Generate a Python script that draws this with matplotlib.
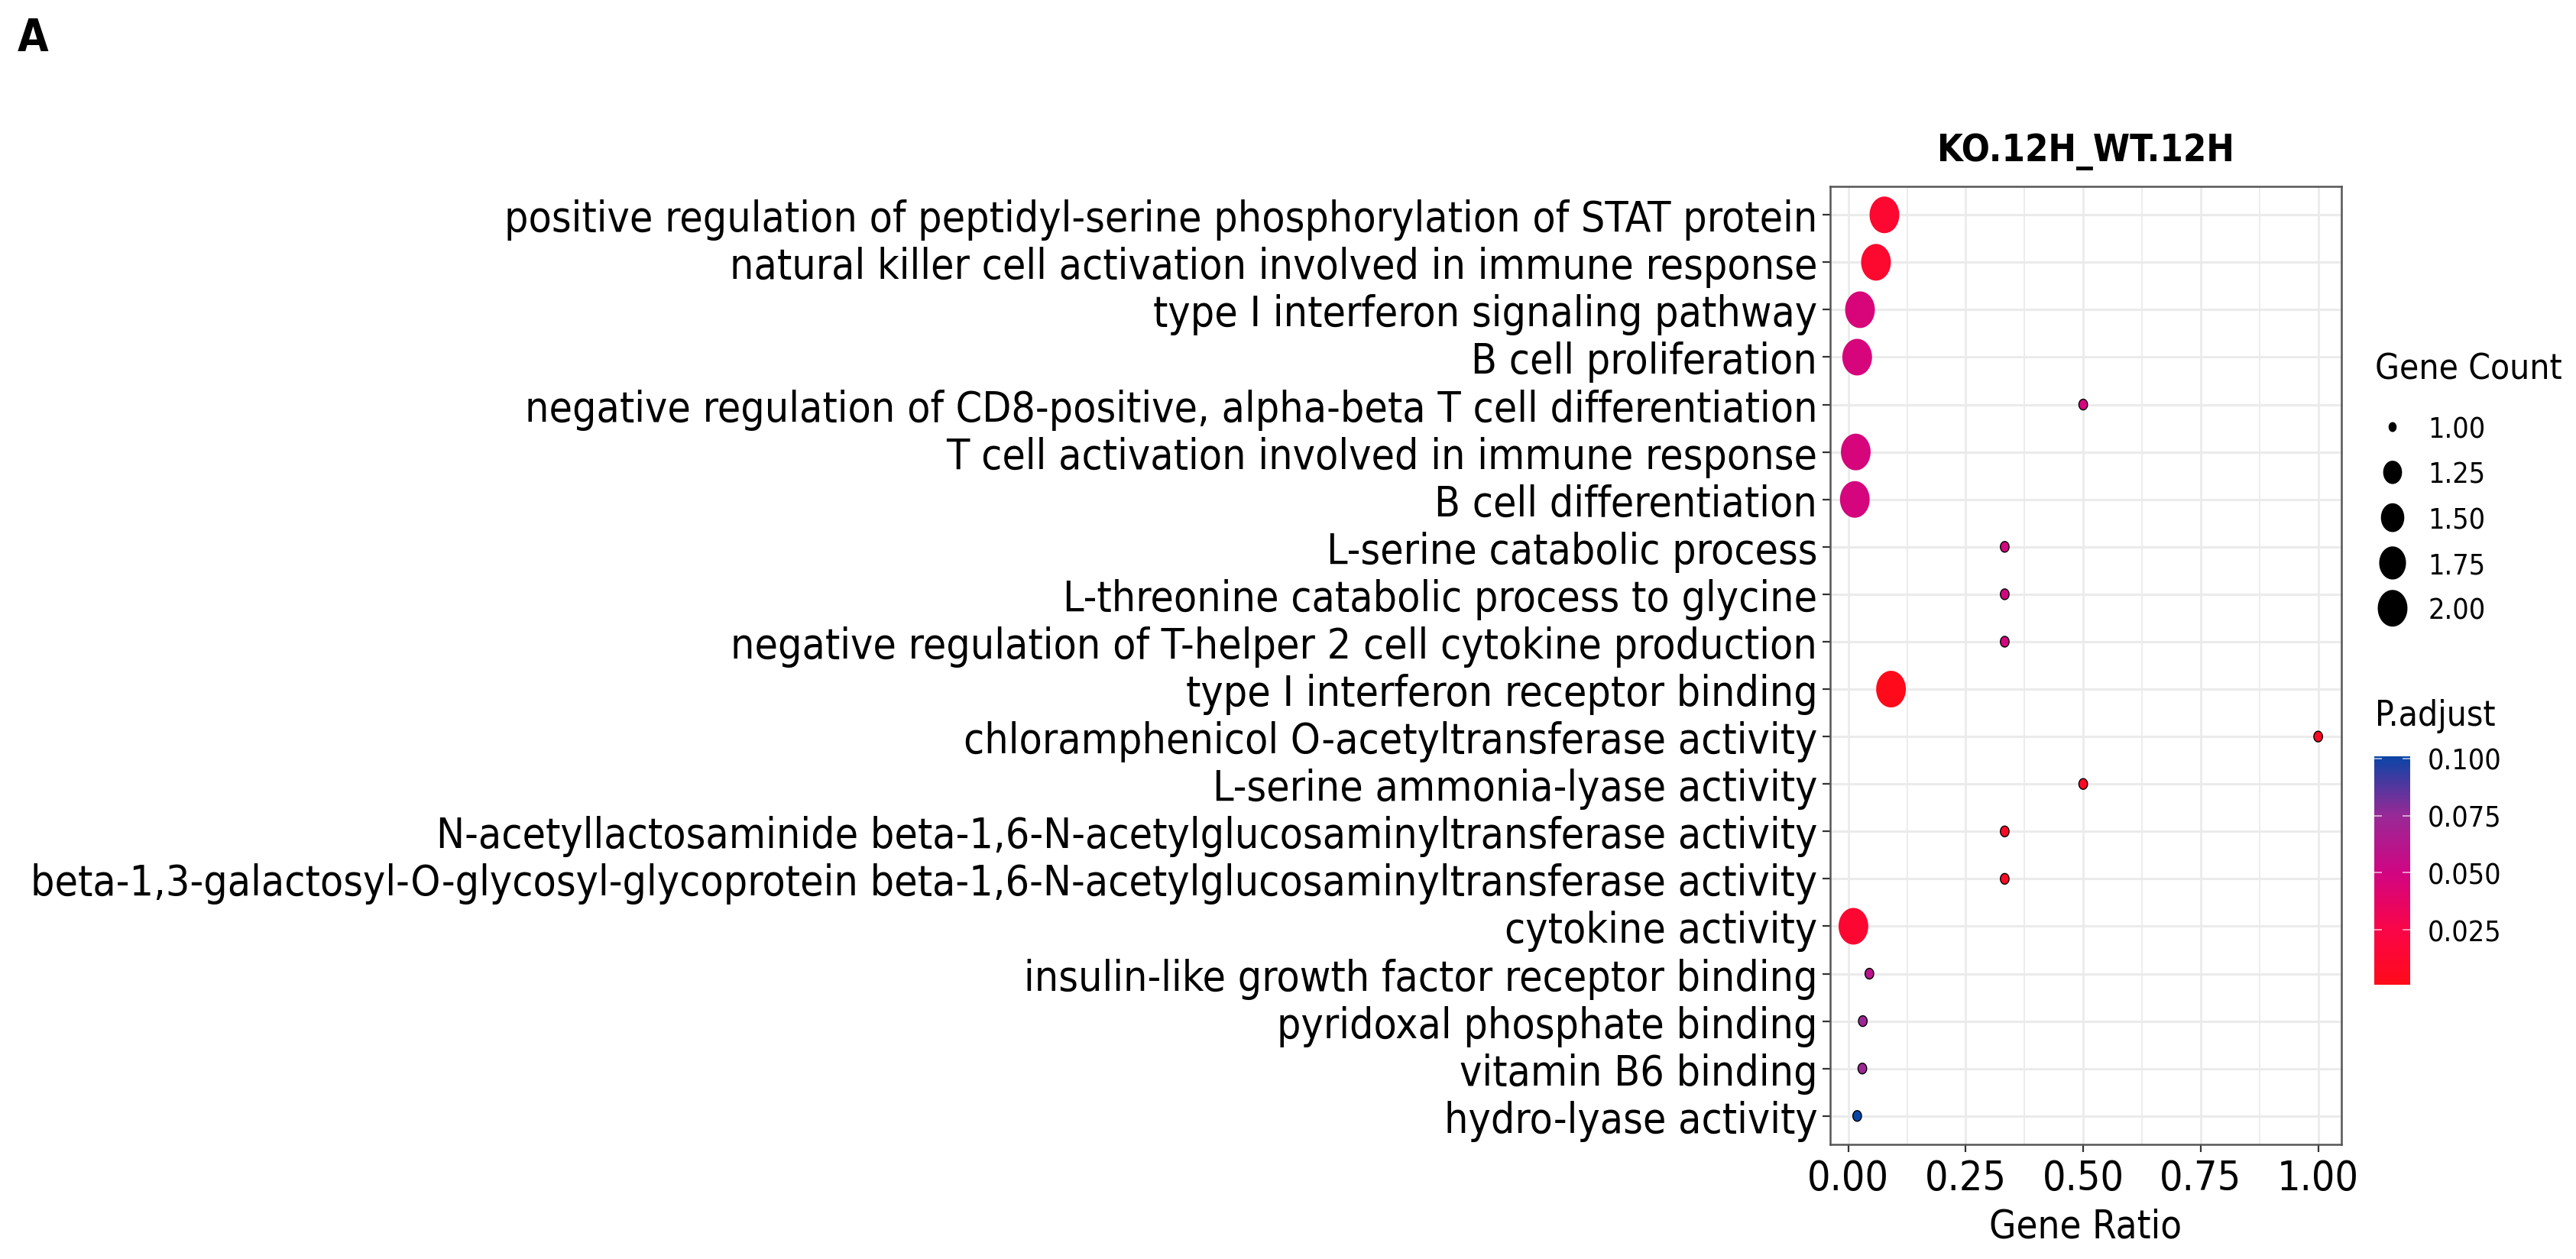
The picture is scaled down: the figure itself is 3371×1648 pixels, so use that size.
import matplotlib
matplotlib.use("Agg")
import numpy as np
import matplotlib.pyplot as plt
from matplotlib.path import Path
from matplotlib.colors import LinearSegmentedColormap, Normalize
from matplotlib.cm import ScalarMappable

plt.rcParams['font.family'] = ['DejaVu Sans']
plt.rcParams['font.stretch'] = 'condensed'

# ---------------- data (top to bottom) ----------------
terms = [
    "positive regulation of peptidyl-serine phosphorylation of STAT protein",
    "natural killer cell activation involved in immune response",
    "type I interferon signaling pathway",
    "B cell proliferation",
    "negative regulation of CD8-positive, alpha-beta T cell differentiation",
    "T cell activation involved in immune response",
    "B cell differentiation",
    "L-serine catabolic process",
    "L-threonine catabolic process to glycine",
    "negative regulation of T-helper 2 cell cytokine production",
    "type I interferon receptor binding",
    "chloramphenicol O-acetyltransferase activity",
    "L-serine ammonia-lyase activity",
    "N-acetyllactosaminide beta-1,6-N-acetylglucosaminyltransferase activity",
    "beta-1,3-galactosyl-O-glycosyl-glycoprotein beta-1,6-N-acetylglucosaminyltransferase activity",
    "cytokine activity",
    "insulin-like growth factor receptor binding",
    "pyridoxal phosphate binding",
    "vitamin B6 binding",
    "hydro-lyase activity",
]
gene_ratio = [0.077, 0.059, 0.025, 0.019, 0.500, 0.016, 0.014, 0.333, 0.333, 0.333,
              0.091, 1.000, 0.500, 0.333, 0.333, 0.011, 0.045, 0.031, 0.030, 0.019]
gene_count = [2, 2, 2, 2, 1, 2, 2, 1, 1, 1,
              2, 1, 1, 1, 1, 2, 1, 1, 1, 1]
p_adjust = [0.013, 0.012, 0.046, 0.047, 0.049, 0.047, 0.048, 0.049, 0.049, 0.049,
            0.001, 0.008, 0.008, 0.008, 0.008, 0.014, 0.060, 0.073, 0.073, 0.101]

size_breaks = [1.00, 1.25, 1.50, 1.75, 2.00]
size_labels = ["1.00", "1.25", "1.50", "1.75", "2.00"]
p_breaks = [0.025, 0.050, 0.075, 0.100]
p_labels = ["0.025", "0.050", "0.075", "0.100"]
x_breaks = [0.00, 0.25, 0.50, 0.75, 1.00]
x_labels = ["0.00", "0.25", "0.50", "0.75", "1.00"]

title = "KO.12H_WT.12H"
panel_tag = "A"

# ---------------- figure ----------------
W, H = 3371, 1649
DPI = 100
fig = plt.figure(figsize=(W / DPI, H / DPI), dpi=DPI)

def fx(px):
    return px / W

def fy(py):
    return 1 - py / H

PT = 72 / DPI  # points per pixel

# colour map (low p = red, high p = navy)
cmap = LinearSegmentedColormap.from_list(
    "padj",
    [(0.00, (1.00, 0.04, 0.10)),
     (0.24, (0.98, 0.02, 0.28)),
     (0.49, (0.82, 0.02, 0.51)),
     (0.74, (0.60, 0.16, 0.59)),
     (1.00, (0.04, 0.27, 0.65))])
norm = Normalize(vmin=min(p_adjust), vmax=max(p_adjust))

# elliptical marker (reference is horizontally squeezed)
th = np.linspace(0, 2 * np.pi, 73)
ell = Path(np.column_stack([0.81 * np.sin(th), np.cos(th)]), closed=True)

def marker_area(c, lo=14.0, hi=48.0, cmin=1.0, cmax=2.0):
    t = (np.asarray(c, float) - cmin) / (cmax - cmin)
    d = lo + (hi - lo) * np.sqrt(t)
    return (d * PT) ** 2

# ---------------- main panel ----------------
L, R, T, B = 2395, 3064, 245, 1499
ax = fig.add_axes([fx(L), fy(B), fx(R - L), (B - T) / H])
n = len(terms)
ypos = np.arange(n)
cols = [cmap(norm(p)) for p in p_adjust]
edges = ['black' if c < 1.5 else 'none' for c in gene_count]
ax.scatter(gene_ratio, ypos, s=marker_area(gene_count), c=cols, marker=ell,
           edgecolors=edges, linewidths=1.0, zorder=3)

rng = max(gene_ratio) - min(gene_ratio)
ax.set_xlim(min(gene_ratio) - 0.05 * rng, max(gene_ratio) + 0.05 * rng)
ax.set_ylim(n - 1 + 0.6, -0.6)
ax.set_yticks(ypos)
ax.set_yticklabels(terms, fontsize=39.7)
ax.set_xticks(x_breaks)
ax.set_xticklabels(x_labels, fontsize=38.5)
ax.set_xticks([0.125, 0.375, 0.625, 0.875], minor=True)
ax.set_axisbelow(True)
ax.grid(True, which='major', axis='x', color='#EBEBEB', lw=2.0)
ax.grid(True, which='minor', axis='x', color='#EBEBEB', lw=1.3)
ax.grid(True, which='major', axis='y', color='#EBEBEB', lw=2.2)
ax.tick_params(axis='both', which='major', length=7, width=1.6, color='#333333',
               labelcolor='black')
ax.tick_params(axis='y', pad=5)
ax.tick_params(axis='x', pad=6)
ax.tick_params(axis='x', which='minor', length=0)
for sp in ax.spines.values():
    sp.set_color('#555555')
    sp.set_linewidth(1.8)

def place(text, x, ycenter, size_pt, ha='left', weight='normal'):
    fpx = size_pt / PT
    base = ycenter + 0.3645 * fpx
    fig.text(fx(x), fy(base), text, fontsize=size_pt, ha=ha, va='baseline',
             fontweight=weight)

# axis title, panel title, tag
place("Gene Ratio", (L + R) / 2, 1602, 36.5, ha='center')
place(title, (L + R) / 2, 193, 35, ha='center', weight='bold')
place(panel_tag, 23, 46, 42, ha='left', weight='bold')

# ---------------- size legend ----------------
lax = fig.add_axes([0, 0, 1, 1], facecolor='none')
lax.set_xlim(0, W)
lax.set_ylim(H, 0)
lax.axis('off')
place("Gene Count", 3108, 480, 33)
leg_y0, leg_dy = 560, 59.3
leg_y = [leg_y0 + i * leg_dy for i in range(len(size_breaks))]
lax.scatter([3131] * len(size_breaks), leg_y, s=marker_area(size_breaks, lo=13.0),
            c='black', marker=ell, edgecolors='none')
for lab, yy in zip(size_labels, leg_y):
    place(lab, 3177, yy, 27)

# ---------------- colour bar ----------------
place("P.adjust", 3108, 933, 33)
cax = fig.add_axes([fx(3107), fy(1290), fx(3154 - 3107), (1290 - 991) / H])
cb = fig.colorbar(ScalarMappable(norm=norm, cmap=cmap), cax=cax, ticks=p_breaks)
cb.outline.set_visible(False)
cb.ax.set_yticklabels(p_labels, fontsize=27)
cb.ax.tick_params(axis='y', which='both', direction='in', left=True, right=True,
                  length=7, width=1.1, color=(1, 1, 1, 0.75), pad=16.5)
cb.ax.minorticks_off()

fig.savefig("out.png", dpi=DPI)
